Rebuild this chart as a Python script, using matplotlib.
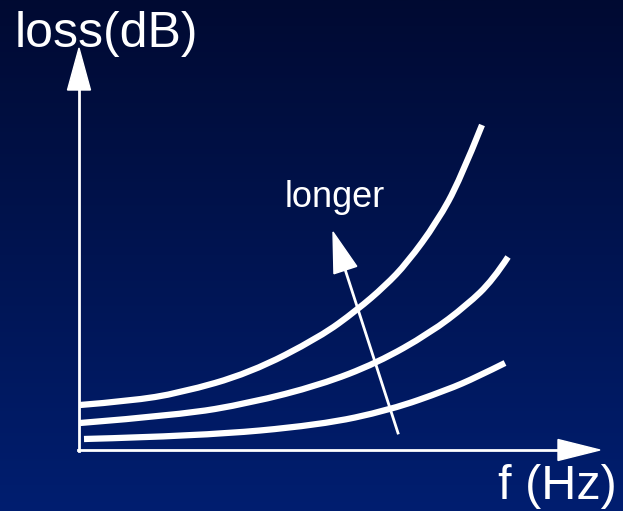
import numpy as np
import matplotlib
matplotlib.use('Agg')
import matplotlib.pyplot as plt
from matplotlib.colors import LinearSegmentedColormap
from matplotlib.patches import FancyArrow, PathPatch
from matplotlib.path import Path

W, H = 623, 511

# curves, pixel coords (x right, y down)
top_x = [80, 130, 180, 250, 320, 357, 385, 407, 437, 460, 482]
top_y = [405, 401, 393, 373, 337, 310, 286, 263, 222, 180, 125]
mid_x = [80, 180, 250, 320, 377, 430, 467, 493, 508]
mid_y = [423, 415, 403, 385, 363, 333, 305, 280, 257]
low_x = [84, 200, 320, 390, 447, 477, 505]
low_y = [439, 436, 425, 410, 390, 377, 363]

ylabel = 'loss(dB)'
xlabel = 'f (Hz)'
arrow_txt = 'longer'

plt.rcParams['font.family'] = ['Liberation Sans', 'DejaVu Sans']


def smooth_path(xs, ys):
    # quadratic b-spline through the read points (midpoints as anchors)
    pts = list(zip(xs, ys))
    verts = [pts[0]]
    codes = [Path.MOVETO]
    for i in range(1, len(pts) - 1):
        nxt = pts[i + 1]
        if i + 1 == len(pts) - 1:
            end = nxt
        else:
            end = ((pts[i][0] + nxt[0]) / 2, (pts[i][1] + nxt[1]) / 2)
        verts += [pts[i], end]
        codes += [Path.CURVE3, Path.CURVE3]
    return Path(verts, codes)


fg = plt.figure(figsize=(W/100, H/100), dpi=100)
ax = fg.add_axes([0, 0, 1, 1])
ax.set_xlim(0, W)
ax.set_ylim(H, 0)
ax.axis('off')

# background gradient, dark navy top -> blue bottom
cm = LinearSegmentedColormap.from_list('bg', ['#000a32', '#001e70'])
grad = np.linspace(0, 1, 256).reshape(-1, 1)
ax.imshow(grad, cmap=cm, extent=(0, W, H, 0), aspect='auto', zorder=0)

# axes with arrowheads
ax.plot([79, 79], [451, 85], color='white', lw=2, zorder=2)
ax.add_patch(FancyArrow(79, 90, 0, -42, width=0, head_width=23, head_length=42,
                        length_includes_head=True, color='white', zorder=3))
ax.plot([78, 565], [450, 450], color='white', lw=2, zorder=2)
ax.add_patch(FancyArrow(558, 450, 42, 0, width=0, head_width=21, head_length=42,
                        length_includes_head=True, color='white', zorder=3))

for xs, ys in [(top_x, top_y), (mid_x, mid_y), (low_x, low_y)]:
    ax.add_patch(PathPatch(smooth_path(xs, ys), facecolor='none', edgecolor='white',
                           lw=4.5, capstyle='butt', zorder=2))

# "longer" arrow
ax.plot([398, 343], [433, 263], color='white', lw=2, zorder=2)
ax.add_patch(FancyArrow(346, 272, -13, -40, width=0, head_width=24, head_length=40,
                        length_includes_head=True, color='white', zorder=3))

ax.text(15, 47, ylabel, color='white', fontsize=36, ha='left', va='baseline')
ax.text(498, 499, xlabel, color='white', fontsize=35, ha='left', va='baseline')
ax.text(335, 207, arrow_txt, color='white', fontsize=26, ha='center', va='baseline')

fg.savefig('out.png', dpi=100, facecolor=fg.get_facecolor())
